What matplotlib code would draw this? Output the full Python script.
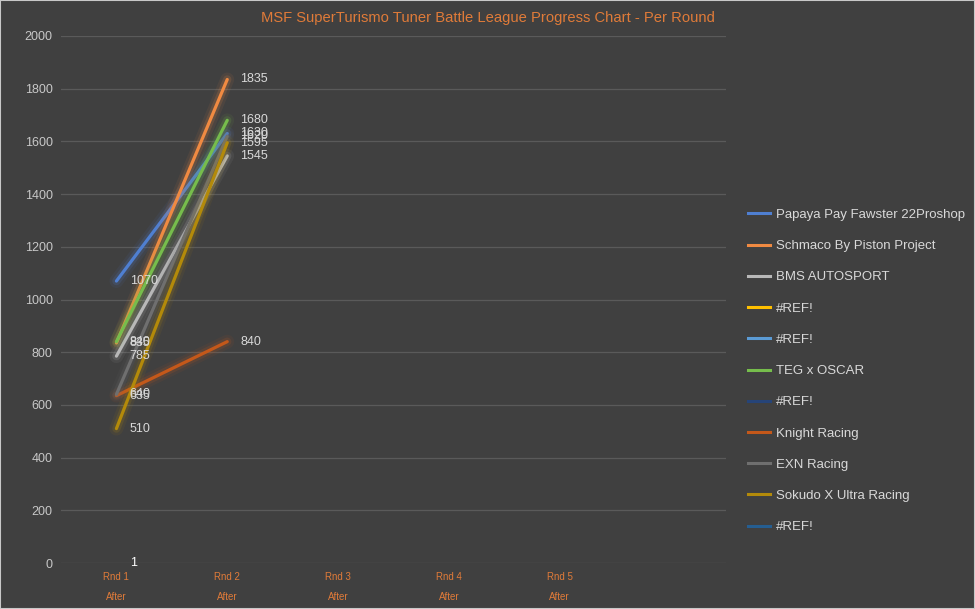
import matplotlib
matplotlib.use("Agg")
import matplotlib.pyplot as plt
import matplotlib.patheffects as pe
from matplotlib.lines import Line2D
from matplotlib.patches import Rectangle

plt.rcParams['font.family'] = ['Liberation Sans', 'DejaVu Sans']

title = 'MSF SuperTurismo Tuner Battle League Progress Chart - Per Round'
rounds = ['Rnd 1', 'Rnd 2', 'Rnd 3', 'Rnd 4', 'Rnd 5', '']
sub_label = 'After'

series_names = ['Papaya Pay Fawster 22Proshop', 'Schmaco By Piston Project', 'BMS AUTOSPORT',
                '#REF!', '#REF!', 'TEG x OSCAR', '#REF!', 'Knight Racing', 'EXN Racing',
                'Sokudo X Ultra Racing', '#REF!']
papaya = [1070, 1630]
schmaco = [835, 1835]
bms = [785, 1545]
ref_a = []
ref_b = []
teg = [840, 1680]
ref_c = [1]
knight = [635, 840]
exn = [640, 1620]
sokudo = [510, 1595]
ref_d = []
series_values = [papaya, schmaco, bms, ref_a, ref_b, teg, ref_c, knight, exn, sokudo, ref_d]
colors = ['#4f7fd1', '#f08a42', '#b8b8b8', '#ffc000', '#5b9bd5', '#76bd4c', '#264478',
          '#c4581a', '#6f6f6f', '#b38a0a', '#255e91']

bg = '#404040'
txt = '#d9d9d9'
accent = '#e07b39'

fig = plt.figure(figsize=(9.75, 6.09), dpi=100, facecolor=bg)
ax = fig.add_axes([61 / 975, 46 / 609, 665 / 975, 527 / 609], facecolor=bg)

glow = [pe.Stroke(linewidth=10, alpha=0.08), pe.Stroke(linewidth=6, alpha=0.16), pe.Normal()]

handles = []
for name, vals, c in zip(series_names, series_values, colors):
    xs = list(range(len(vals)))
    if len(vals) > 1:
        ax.plot(xs, vals, color=c, lw=2.3, solid_capstyle='round', path_effects=glow, zorder=3)
    for x, v in zip(xs, vals):
        col = '#ffffff' if v < 50 else txt
        ax.annotate(str(v), (x, v), xytext=(9.5, 0), textcoords='offset points',
                    ha='left', va='center', fontsize=9, color=col, zorder=4)
    handles.append(Line2D([0], [0], color=c, lw=2.2))

ax.set_xlim(-0.5, len(rounds) - 0.5)
ax.set_ylim(0, 2000)
ax.set_yticks(range(0, 2001, 200))
ax.tick_params(axis='y', colors=txt, labelsize=9, length=0, pad=6)
for t in ax.get_yticklabels():
    t.set_color('#c8c8c8')
ax.set_xticks([])
ax.grid(axis='y', color='#5a5a5a', lw=0.9)
ax.set_axisbelow(True)
for s in ax.spines.values():
    s.set_visible(False)

for i, r in enumerate(rounds):
    if r:
        ax.text(i, -0.027, r, transform=ax.get_xaxis_transform(), ha='center', va='center',
                fontsize=7, color=accent)
        ax.text(i, -0.065, sub_label, transform=ax.get_xaxis_transform(), ha='center', va='center',
                fontsize=7, color=accent)

fig.text(0.5, 1 - 18 / 609, title, ha='center', va='center', fontsize=10.6, color=accent)

leg = fig.legend(handles, series_names, loc='center left', bbox_to_anchor=(736 / 975, 1 - 371 / 609),
                 frameon=False, fontsize=9.5, labelcolor=txt, handlelength=1.65,
                 labelspacing=1.44, handletextpad=0.5)

fig.patches.append(Rectangle((0, 0), 1, 1, transform=fig.transFigure, fill=False,
                             edgecolor='#c8c8c8', lw=1.5))

fig.savefig('out.png', dpi=100, facecolor=bg)
